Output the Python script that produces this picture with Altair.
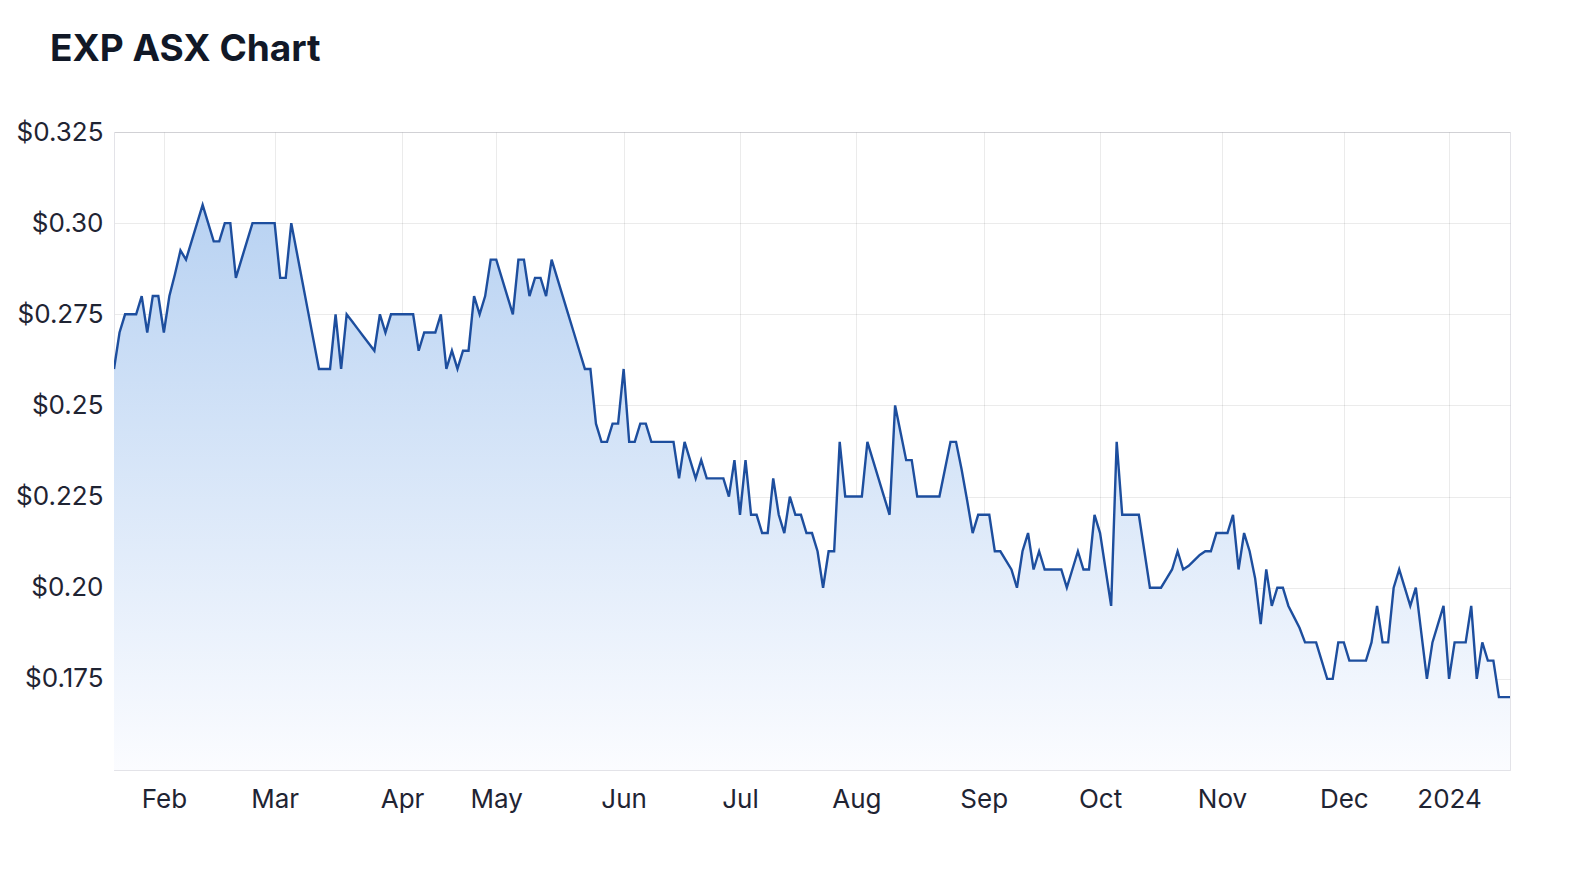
import altair as alt
import pandas as pd

# closing prices by trading day (index 0 = 18 Jan 2023)
prices = [
    0.26, 0.27, 0.275, 0.275, 0.275, 0.28, 0.27, 0.28, 0.28, 0.27,
    0.28, 0.286, 0.2925, 0.29, 0.295, 0.30, 0.305, 0.30, 0.295, 0.295,
    0.30, 0.30, 0.285, 0.29, 0.295, 0.30, 0.30, 0.30, 0.30, 0.30,
    0.285, 0.285, 0.30, 0.292, 0.284, 0.276, 0.268, 0.26, 0.26, 0.26,
    0.275, 0.26, 0.275, 0.273, 0.271, 0.269, 0.267, 0.265, 0.275, 0.27,
    0.275, 0.275, 0.275, 0.275, 0.275, 0.265, 0.27, 0.27, 0.27, 0.275,
    0.26, 0.265, 0.26, 0.265, 0.265, 0.28, 0.275, 0.28, 0.29, 0.29,
    0.285, 0.28, 0.275, 0.29, 0.29, 0.28, 0.285, 0.285, 0.28, 0.29,
    0.285, 0.28, 0.275, 0.27, 0.265, 0.26, 0.26, 0.245, 0.24, 0.24,
    0.245, 0.245, 0.26, 0.24, 0.24, 0.245, 0.245, 0.24, 0.24, 0.24,
    0.24, 0.24, 0.23, 0.24, 0.235, 0.23, 0.235, 0.23, 0.23, 0.23,
    0.23, 0.225, 0.235, 0.22, 0.235, 0.22, 0.22, 0.215, 0.215, 0.23,
    0.22, 0.215, 0.225, 0.22, 0.22, 0.215, 0.215, 0.21, 0.20, 0.21,
    0.21, 0.24, 0.225, 0.225, 0.225, 0.225, 0.24, 0.235, 0.23, 0.225,
    0.22, 0.25, 0.2425, 0.235, 0.235, 0.225, 0.225, 0.225, 0.225, 0.225,
    0.2325, 0.24, 0.24, 0.2325, 0.224, 0.215, 0.22, 0.22, 0.22, 0.21,
    0.21, 0.2075, 0.205, 0.20, 0.21, 0.215, 0.205, 0.21, 0.205, 0.205,
    0.205, 0.205, 0.20, 0.205, 0.21, 0.205, 0.205, 0.22, 0.215, 0.205,
    0.195, 0.24, 0.22, 0.22, 0.22, 0.22, 0.21, 0.20, 0.20, 0.20,
    0.2025, 0.205, 0.21, 0.205, 0.206, 0.2075, 0.209, 0.21, 0.21, 0.215,
    0.215, 0.215, 0.22, 0.205, 0.215, 0.21, 0.2025, 0.19, 0.205, 0.195,
    0.20, 0.20, 0.195, 0.192, 0.189, 0.185, 0.185, 0.185, 0.18, 0.175,
    0.175, 0.185, 0.185, 0.18, 0.18, 0.18, 0.18, 0.185, 0.195, 0.185,
    0.185, 0.20, 0.205, 0.20, 0.195, 0.20, 0.1875, 0.175, 0.185, 0.19,
    0.195, 0.175, 0.185, 0.185, 0.185, 0.195, 0.175, 0.185, 0.18, 0.18,
    0.17, 0.17, 0.17,
]

# first trading day of each month (index into prices) and its label
tick_idx = [9, 29, 52, 69, 92, 113, 134, 157, 178, 200, 222, 241]
tick_labels = ["Feb", "Mar", "Apr", "May", "Jun", "Jul", "Aug", "Sep", "Oct", "Nov", "Dec", "2024"]

y_ticks = [0.175, 0.2, 0.225, 0.25, 0.275, 0.3, 0.325]
y_min, y_max = 0.15, 0.325

df = pd.DataFrame({"i": list(range(len(prices))), "price": prices})

label_expr = (
    "[" + ",".join("'" + s + "'" for s in tick_labels) + "]"
    + "[indexof([" + ",".join(str(v) for v in tick_idx) + "], datum.value)]"
)

x = alt.X(
    "i:Q",
    scale=alt.Scale(domain=[0, len(prices) - 1], nice=False, zero=False),
    axis=alt.Axis(
        values=tick_idx,
        labelExpr=label_expr,
        title=None,
        ticks=False,
        grid=True,
        labelPadding=16,
        labelFontSize=26,
        labelFont="Inter",
        labelColor="#1f2433",
        domainColor="#e3e3e8",
        labelFlush=False,
    ),
)

y = alt.Y(
    "price:Q",
    scale=alt.Scale(domain=[y_min, y_max], nice=False, zero=False),
    axis=alt.Axis(
        values=y_ticks,
        labelExpr="round(datum.value*1000) % 10 == 0 ? '$' + format(datum.value, '.2f') : '$' + format(datum.value, '.3f')",
        title=None,
        ticks=False,
        grid=True,
        labelPadding=11,
        labelFontSize=26,
        labelFont="Inter",
        labelColor="#1f2433",
        domainColor="#e3e3e8",
    ),
)

area = alt.Chart(df).mark_area(
    color=alt.Gradient(
        gradient="linear",
        stops=[
            alt.GradientStop(color="#b8d2f2", offset=0),
            alt.GradientStop(color="#fbfcff", offset=1),
        ],
        x1=1, x2=1, y1=0, y2=1,
    ),
    clip=True,
).encode(x=x, y=y, y2=alt.datum(y_min))

line = alt.Chart(df).mark_line(color="#1d4e9e", strokeWidth=2.4, clip=True).encode(
    x="i:Q", y="price:Q"
)

chart = (
    alt.layer(area, line)
    .properties(
        width=1396,
        height=638,
        padding={"left": 106, "top": 124, "right": 10, "bottom": 80},
        autosize=alt.AutoSizeParams(type="none"),
        title=alt.TitleParams(
            "EXP ASX Chart",
            anchor="start",
            frame="group",
            dx=-64,
            font="Inter",
            fontSize=37,
            fontWeight="bold",
            color="#111827",
            offset=50,
        ),
    )
    .configure_axis(gridColor="#000000", gridOpacity=0.08, zindex=1)
    .configure_view(stroke="#e3e3e8")
)

chart.save("out.html", embed_options={"renderer": "svg", "actions": False})
